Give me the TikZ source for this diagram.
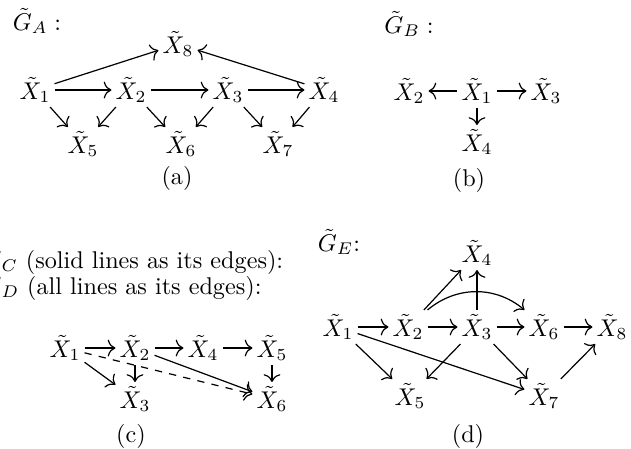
\documentclass[tikz,border=0pt]{standalone}
\usetikzlibrary{arrows.meta}
\begin{document}
\begin{tikzpicture}[x=0.4133pt,y=-0.4133pt,
  v/.style={inner sep=1.5pt},
  lbl/.style={inner sep=0pt},
  e/.style={-{To[length=3.2pt,width=7pt]},line width=0.5pt},
  ed/.style={e,dashed}]
\useasboundingbox (0,0) rectangle (631,448);
% (a)
\node[lbl] (GA) at (37,21) {$\tilde G_A:$};
\node[v] (a1) at (35,90) {$\tilde X_1$};
\node[v] (a2) at (131,90) {$\tilde X_2$};
\node[v] (a3) at (228,90) {$\tilde X_3$};
\node[v] (a4) at (324,90) {$\tilde X_4$};
\node[v] (a8) at (178,44) {$\tilde X_8$};
\node[v] (a5) at (83,144) {$\tilde X_5$};
\node[v] (a6) at (181,144) {$\tilde X_6$};
\node[v] (a7) at (278,144) {$\tilde X_7$};
\node[lbl] (la) at (177,178) {(a)};
\draw[e] (a1) -- (a8);
\draw[e] (a4) -- (a8);
\draw[e] (a1) -- (a2);
\draw[e] (a2) -- (a3);
\draw[e] (a3) -- (a4);
\draw[e] (a1) -- (a5);
\draw[e] (a2) -- (a5);
\draw[e] (a2) -- (a6);
\draw[e] (a3) -- (a6);
\draw[e] (a3) -- (a7);
\draw[e] (a4) -- (a7);
% (b)
\node[lbl] (GB) at (409,24) {$\tilde G_B:$};
\node[v] (b2) at (409,91) {$\tilde X_2$};
\node[v] (b1) at (477,91) {$\tilde X_1$};
\node[v] (b3) at (546,91) {$\tilde X_3$};
\node[v] (b4) at (477,142) {$\tilde X_4$};
\node[lbl] (lb) at (469,180) {(b)};
\draw[e] (b1) -- (b2);
\draw[e] (b1) -- (b3);
\draw[e] (b1) -- (b4);
% (c)
\node[lbl,anchor=base west] (tc) at (-18,268) {$\tilde G_C$ (solid lines as its edges):};
\node[lbl,anchor=base west] (td) at (-18,294) {$\tilde G_D$ (all lines as its edges):};
\node[v] (c1) at (65,348) {$\tilde X_1$};
\node[v] (c2) at (135,348) {$\tilde X_2$};
\node[v] (c4) at (203,348) {$\tilde X_4$};
\node[v] (c5) at (272,348) {$\tilde X_5$};
\node[v] (c3) at (135,399) {$\tilde X_3$};
\node[v] (c6) at (272,399) {$\tilde X_6$};
\node[lbl] (lc) at (131,436) {(c)};
\draw[e] (c1) -- (c2);
\draw[e] (c2) -- (c4);
\draw[e] (c4) -- (c5);
\draw[e] (c1) -- (c3);
\draw[e] (c2) -- (c3);
\draw[e] (c2) -- (c6);
\draw[e] (c5) -- (c6);
\draw[ed] (c1) -- (c6);
% (d)
\node[lbl] (GE) at (339,242) {$\tilde G_E$:};
\node[v] (d1) at (338,327) {$\tilde X_1$};
\node[v] (d2) at (408,327) {$\tilde X_2$};
\node[v] (d3) at (477,327) {$\tilde X_3$};
\node[v] (d6) at (544,327) {$\tilde X_6$};
\node[v] (d8) at (612,327) {$\tilde X_8$};
\node[v] (d4) at (477,253) {$\tilde X_4$};
\node[v] (d5) at (410,396) {$\tilde X_5$};
\node[v] (d7) at (544,396) {$\tilde X_7$};
\node[lbl] (ld) at (468,436) {(d)};
\draw[e] (d1) -- (d2);
\draw[e] (d2) -- (d3);
\draw[e] (d3) -- (d6);
\draw[e] (d6) -- (d8);
\draw[e] (d2) -- (d4);
\draw[e] (d3) -- (d4);
\draw[e] (d2.north east) to[bend left=40] (d6.north west);
\draw[e] (d1) -- (d5);
\draw[e] (d3) -- (d5);
\draw[e] (d1) -- (d7);
\draw[e] (d3) -- (d7);
\draw[e] (d7) -- (d8);
\end{tikzpicture}
\end{document}
